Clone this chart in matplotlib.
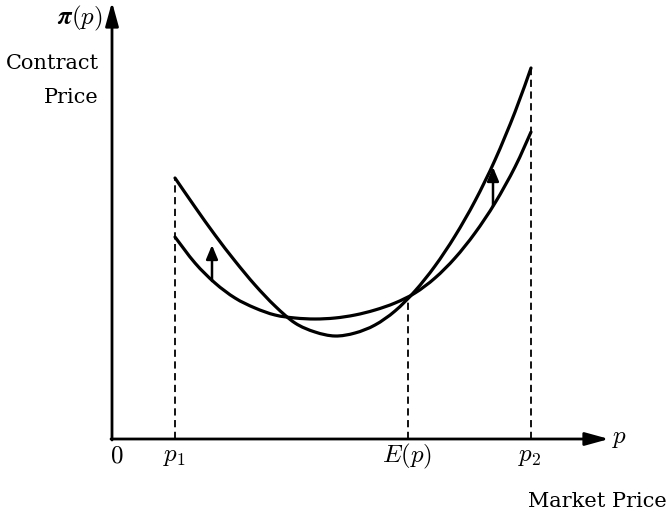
import matplotlib
matplotlib.use("Agg")
import matplotlib.pyplot as plt
from matplotlib.path import Path
from matplotlib.patches import PathPatch

plt.rcParams['mathtext.fontset'] = 'cm'
plt.rcParams['font.family'] = ['DejaVu Serif']

# Key market prices on the horizontal axis
p1 = 63
Ep = 296
p2 = 419
Ep_contract = 142   # contract price where the two schedules cross at E(p)

# Market prices at which the schedules are read
market_p = [63, 83, 103, 123, 143, 163, 183, 203, 223, 243, 263, 283, 303, 323,
            343, 363, 383, 403, 419]

# Original contract price schedule
orig_price = [202, 176, 156, 141, 131, 124, 121, 120, 121, 124, 129, 136, 146, 161,
              181, 206, 236, 272, 307]

# Shifted (more convex) contract price schedule
new_price = [261, 232, 204, 178, 154, 133, 116, 107, 103, 106, 114, 128, 148, 173,
             203, 238, 279, 327, 371]

# Upward shift arrows: (x, from_y, to_y)
shift_arrows = [(100, 158, 194), (381, 233, 272)]

tick_labels = [(0, '$0$'), (p1, '$p_1$'), (Ep, '$E(p)$'), (p2, '$p_2$')]


def smooth_path(xs, ys):
    """Catmull-Rom curve through the given points, as cubic Bezier segments."""
    pts = list(zip(xs, ys))
    n = len(pts)
    verts = [pts[0]]
    codes = [Path.MOVETO]
    for i in range(n - 1):
        p0 = pts[i - 1] if i > 0 else pts[i]
        pa = pts[i]
        pb = pts[i + 1]
        p3 = pts[i + 2] if i + 2 < n else pts[i + 1]
        c1 = (pa[0] + (pb[0] - p0[0]) / 6.0, pa[1] + (pb[1] - p0[1]) / 6.0)
        c2 = (pb[0] - (p3[0] - pa[0]) / 6.0, pb[1] - (p3[1] - pa[1]) / 6.0)
        verts += [c1, c2, pb]
        codes += [Path.CURVE4] * 3
    return Path(verts, codes)


fig = plt.figure(figsize=(6.7, 5.14), dpi=100)
ax = fig.add_axes([0, 0, 1, 1])
ax.set_xlim(-112, 558)
ax.set_ylim(-75, 439)
ax.axis('off')

# axes with arrows
ax.annotate('', xy=(0, 437), xytext=(0, -1),
            arrowprops=dict(arrowstyle='-|>,head_length=0.8,head_width=0.22',
                            lw=2, color='black', mutation_scale=18,
                            shrinkA=0, shrinkB=0))
ax.annotate('', xy=(497, 0), xytext=(-1, 0),
            arrowprops=dict(arrowstyle='-|>,head_length=0.8,head_width=0.22',
                            lw=2, color='black', mutation_scale=18,
                            shrinkA=0, shrinkB=0))

# dashed drop lines
for xv, top in [(p1, new_price[0]), (Ep, Ep_contract), (p2, new_price[-1])]:
    ax.plot([xv, xv], [0, top], color='black', lw=1.3, dashes=(4, 2.5))

# curves
for ys in (orig_price, new_price):
    ax.add_patch(PathPatch(smooth_path(market_p, ys), facecolor='none',
                           edgecolor='black', lw=2.3, capstyle='round',
                           joinstyle='round'))

# shift arrows
for xa, y0, y1 in shift_arrows:
    ax.annotate('', xy=(xa, y1), xytext=(xa, y0),
                arrowprops=dict(arrowstyle='-|>,head_length=0.6,head_width=0.25',
                                lw=1.8, color='black', mutation_scale=14,
                                shrinkA=0, shrinkB=0))

# labels
ax.text(-9, 421, r'$\boldsymbol{\pi}(p)$', fontsize=18, ha='right', va='center')
ax.text(-13, 370, 'Contract', fontsize=15, ha='right', va='baseline')
ax.text(-13, 336, 'Price', fontsize=15, ha='right', va='baseline')
ax.text(555, -68, 'Market Price', fontsize=15, ha='right', va='baseline')
ax.text(508, 1, '$p$', fontsize=18, ha='center', va='center')

for xv, lab in tick_labels:
    xoff = 5 if xv == 0 else -1
    ax.text(xv + xoff, -17, lab, fontsize=18, ha='center', va='center')

fig.savefig('out.png', dpi=100)
